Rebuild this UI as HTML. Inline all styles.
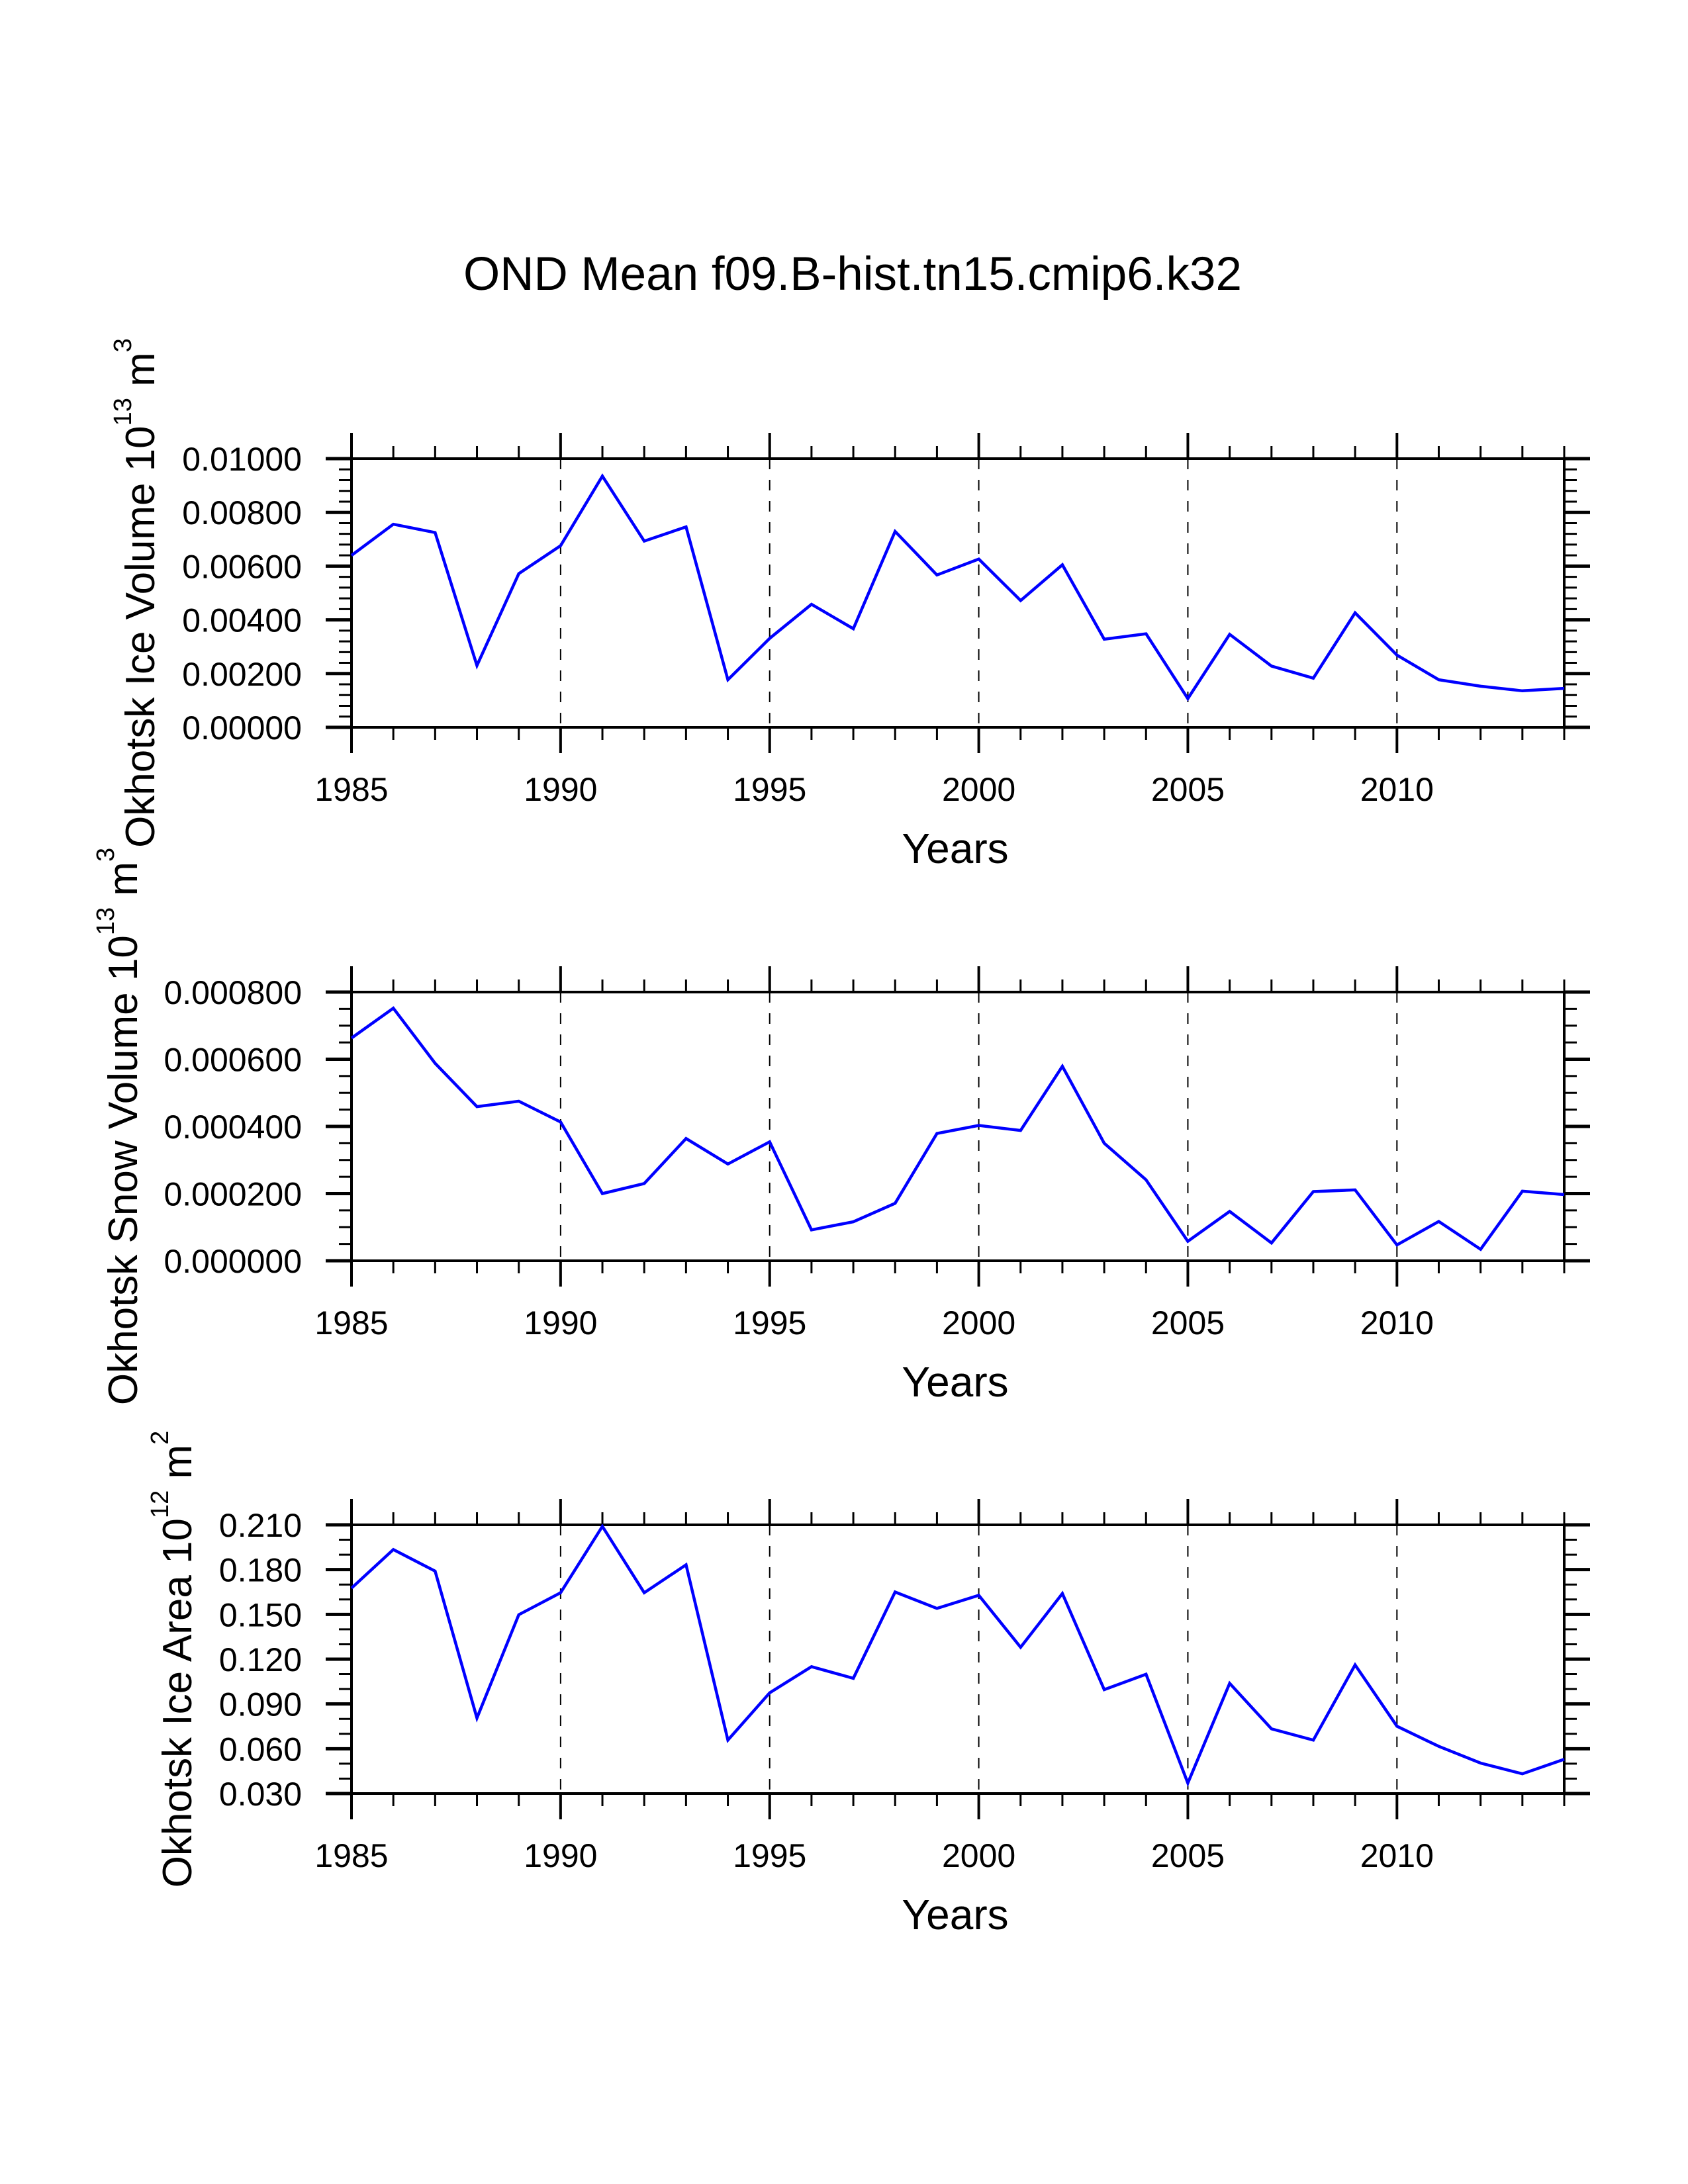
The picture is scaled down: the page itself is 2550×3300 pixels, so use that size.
<!DOCTYPE html>
<html><head><meta charset="utf-8">
<style>
html,body{margin:0;padding:0;background:#fff;}
svg{display:block;font-family:"Liberation Sans",Arial,sans-serif;}
</style></head>
<body>
<svg id="chart" width="2550" height="3300" viewBox="0 0 2550 3300" xmlns="http://www.w3.org/2000/svg">
<rect width="2550" height="3300" fill="#fff"/>
<text x="1288" y="438" font-size="71" text-anchor="middle">OND Mean f09.B-hist.tn15.cmip6.k32</text>
</svg>
<script>
const years = [1985,1986,1987,1988,1989,1990,1991,1992,1993,1994,1995,1996,1997,1998,1999,2000,2001,2002,2003,2004,2005,2006,2007,2008,2009,2010,2011,2012,2013,2014];
const iceVolume = [0.0064,0.00756,0.00725,0.0023,0.00572,0.00676,0.00935,0.00693,0.00746,0.00177,0.00331,0.00458,0.00367,0.00729,0.00567,0.00626,0.00472,0.00605,0.00328,0.00348,0.00107,0.00346,0.00228,0.00183,0.00426,0.00269,0.00177,0.00153,0.00136,0.00145];
const snowVolume = [0.000663,0.000752,0.000588,0.000459,0.000475,0.000413,0.000200,0.000230,0.000364,0.000288,0.000354,0.000092,0.000116,0.000171,0.000379,0.000403,0.000388,0.000579,0.000350,0.000241,0.000058,0.000147,0.000053,0.000206,0.000211,0.000047,0.000117,0.000034,0.000207,0.000197];
const iceArea = [0.1676,0.1934,0.179,0.0806,0.1498,0.1645,0.209,0.1645,0.1832,0.0658,0.0975,0.115,0.1072,0.165,0.154,0.1628,0.128,0.164,0.0996,0.1099,0.037,0.1038,0.0733,0.0658,0.1162,0.0751,0.0616,0.0504,0.0432,0.0529];
const xTickLabels = ["1985","1990","1995","2000","2005","2010"];
const iceVolTicks = ["0.00000","0.00200","0.00400","0.00600","0.00800","0.01000"];
const snowVolTicks = ["0.000000","0.000200","0.000400","0.000600","0.000800"];
const iceAreaTicks = ["0.030","0.060","0.090","0.120","0.150","0.180","0.210"];

const NS = "http://www.w3.org/2000/svg";
const svg = document.getElementById('chart');
const L = 531, R = 2363, H = 406;
function mk(tag, attrs, parent){const e=document.createElementNS(NS,tag);for(const k in attrs)e.setAttribute(k,attrs[k]);(parent||svg).appendChild(e);return e;}

function panel(top, values, ticks, minorPerMajor, titleParts, titleX, key){
  const g = mk('g',{});
  
  
  const bottom = top + H;
  const yMin = parseFloat(ticks[0]), yMax = parseFloat(ticks[ticks.length-1]);
  const xs = y => L + (y - years[0]) / (years[years.length-1] - years[0]) * (R - L);
  const ys = v => bottom - (v - yMin) / (yMax - yMin) * H;
  for (let yr = 1990; yr <= 2010; yr += 5) {
    const gl = mk('line',{x1:xs(yr),x2:xs(yr),y1:top,y2:bottom,stroke:'#000','stroke-width':2,'stroke-dasharray':'16,16'},g);
    
    
  }
  for (let yr = years[0]; yr <= years[years.length-1]; yr++) {
    const major = (yr % 5 === 0);
    const len = major ? 39 : 19;
    mk('line',{x1:xs(yr),x2:xs(yr),y1:top-len,y2:top,stroke:'#000','stroke-width':major?4:3},g);
    mk('line',{x1:xs(yr),x2:xs(yr),y1:bottom,y2:bottom+len,stroke:'#000','stroke-width':major?4:3},g);
  }
  xTickLabels.forEach(t => {
    const tx = mk('text',{x:xs(+t),y:bottom+111,'font-size':50,'text-anchor':'middle'},g);
    tx.textContent = t;
    
    
  });
  const step = (yMax - yMin) / (ticks.length - 1);
  const nMinor = (ticks.length - 1) * minorPerMajor;
  for (let i = 0; i <= nMinor; i++) {
    const v = yMin + i * step / minorPerMajor;
    const major = (i % minorPerMajor === 0);
    const len = major ? 39 : 19;
    mk('line',{x1:L-len,x2:L,y1:ys(v),y2:ys(v),stroke:'#000','stroke-width':major?5:3},g);
    mk('line',{x1:R,x2:R+len,y1:ys(v),y2:ys(v),stroke:'#000','stroke-width':major?5:3},g);
  }
  ticks.forEach(t => {
    const tx = mk('text',{x:456,y:ys(parseFloat(t))+18,'font-size':50,'text-anchor':'end'},g);
    tx.textContent = t;
    
    
  });
  const fr = mk('rect',{x:L,y:top,width:R-L,height:H,fill:'none',stroke:'#000','stroke-width':4},g);
  
  
  const pts = values.map((v,i)=>xs(years[i]).toFixed(1)+','+ys(v).toFixed(1)).join(' ');
  const pl = mk('polyline',{points:pts,fill:'none',stroke:'#0000ff','stroke-width':4.5,'stroke-linejoin':'miter'},g);
  
  
  const xt = mk('text',{x:(L+R)/2-4,y:bottom+205,'font-size':64,'text-anchor':'middle'},g);
  xt.textContent = 'Years';
  
  
  const cy = top + H/2;
  const yt = mk('text',{x:titleX,y:cy,'font-size':62,'text-anchor':'middle','dominant-baseline':'central',transform:'rotate(-90 '+titleX+' '+cy+')'},g);
  
  
  const t1 = mk('tspan',{},yt); t1.textContent = titleParts[0];
  const t2 = mk('tspan',{'font-size':38,dy:-26},yt); t2.textContent = titleParts[1];
  const t3 = mk('tspan',{dy:26},yt); t3.textContent = ' m';
  const t4 = mk('tspan',{'font-size':38,dy:-26},yt); t4.textContent = titleParts[2];
}
panel(693, iceVolume, iceVolTicks, 5, ['Okhotsk Ice Volume 10','13','3'], 212, 'ice-volume');
panel(1499, snowVolume, snowVolTicks, 4, ['Okhotsk Snow Volume 10','13','3'], 186, 'snow-volume');
panel(2304, iceArea, iceAreaTicks, 3, ['Okhotsk Ice Area 10','12','2'], 268, 'ice-area');
</script>
</body></html>
